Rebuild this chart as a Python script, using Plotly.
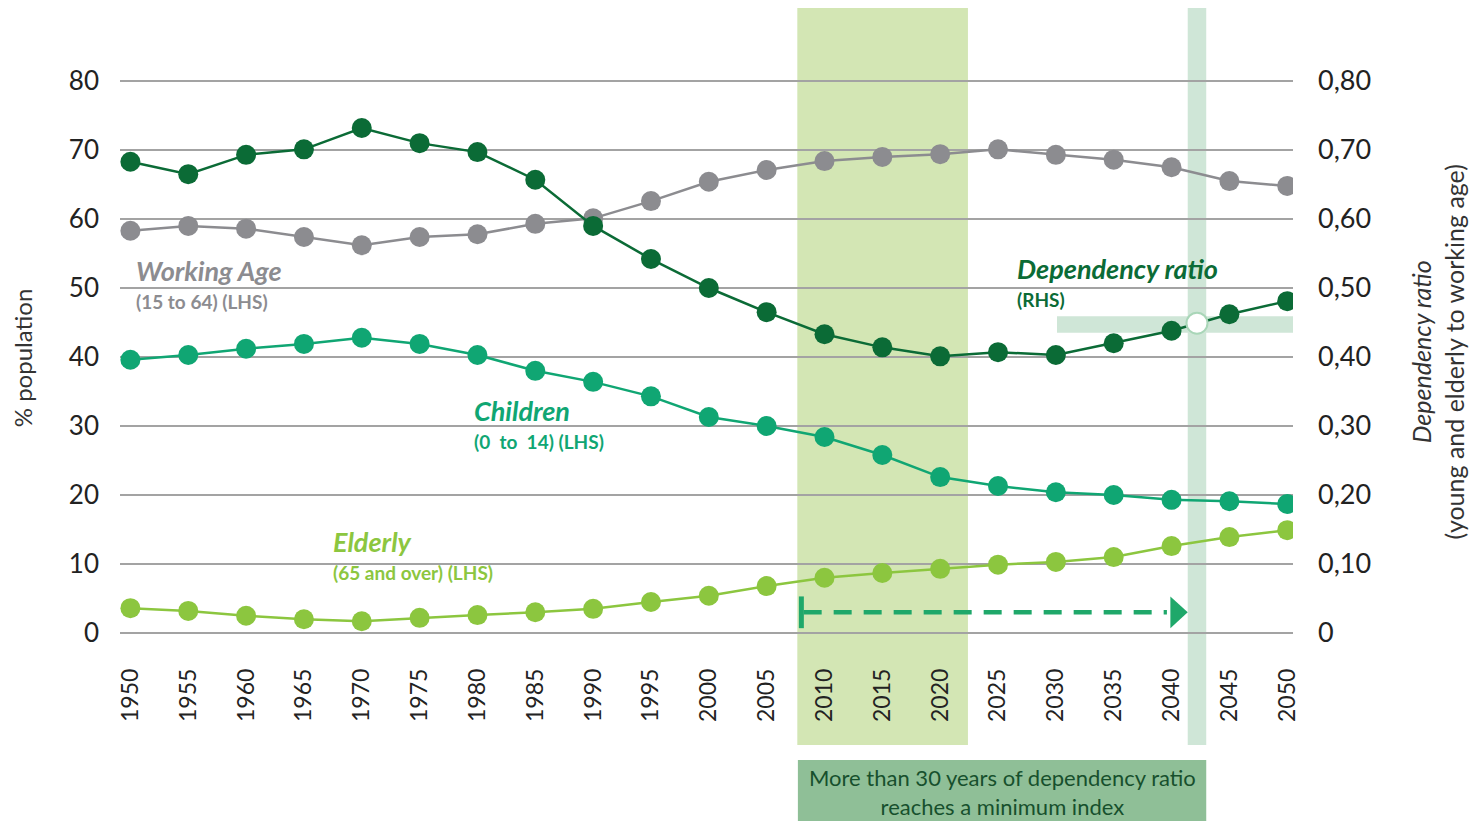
import plotly.graph_objects as go

years = [1950, 1955, 1960, 1965, 1970, 1975, 1980, 1985, 1990, 1995, 2000,
         2005, 2010, 2015, 2020, 2025, 2030, 2035, 2040, 2045, 2050]

dependency_ratio = [0.683, 0.665, 0.693, 0.701, 0.732, 0.710, 0.697, 0.657, 0.590, 0.542, 0.500,
                    0.465, 0.433, 0.414, 0.401, 0.407, 0.403, 0.420, 0.438, 0.462, 0.481]
working_age = [58.3, 59.0, 58.6, 57.4, 56.2, 57.4, 57.8, 59.3, 60.1, 62.6, 65.4,
               67.1, 68.4, 69.0, 69.4, 70.1, 69.3, 68.6, 67.5, 65.5, 64.8]
children = [39.6, 40.3, 41.2, 41.9, 42.8, 41.9, 40.3, 38.0, 36.4, 34.3, 31.3,
            30.0, 28.4, 25.8, 22.6, 21.3, 20.4, 20.0, 19.3, 19.1, 18.7]
elderly = [3.6, 3.2, 2.5, 2.0, 1.7, 2.2, 2.6, 3.0, 3.5, 4.5, 5.4,
           6.8, 8.0, 8.7, 9.3, 9.9, 10.3, 11.0, 12.6, 13.9, 14.9]

left_ticks = [0, 10, 20, 30, 40, 50, 60, 70, 80]
left_ticktext = ["0", "10", "20", "30", "40", "50", "60", "70", "80"]
right_ticks = [0, 0.1, 0.2, 0.3, 0.4, 0.5, 0.6, 0.7, 0.8]
right_ticktext = ["0", "0,10", "0,20", "0,30", "0,40", "0,50", "0,60", "0,70", "0,80"]

highlight_year = [2042.2]
highlight_ratio = [0.449]

C_DEP = "#0b6b36"
C_WORK = "#8c8c90"
C_CHILD = "#10a673"
C_ELD = "#8cc63f"
C_BAND = "#d3e6b4"
C_MINT = "#cfe6d7"
C_ARROW = "#1fa86a"
FONT = "Lato"

fig = go.Figure()

def add_series(y, color, yaxis="y"):
    fig.add_trace(go.Scatter(
        x=years, y=y, mode="lines+markers", yaxis=yaxis,
        line=dict(color=color, width=2.5),
        marker=dict(color=color, size=20),
        showlegend=False, hoverinfo="x+y"))

add_series(working_age, C_WORK)
add_series(children, C_CHILD)
add_series(elderly, C_ELD)
add_series(dependency_ratio, C_DEP, "y2")

fig.add_trace(go.Scatter(
    x=highlight_year, y=highlight_ratio, mode="markers", yaxis="y2",
    marker=dict(color="white", size=21, line=dict(color="#a9d6b8", width=2)),
    showlegend=False))

shapes = []
# shaded period band
shapes.append(dict(type="rect", xref="x", yref="paper", x0=2007.65, x1=2022.4,
                   y0=-0.174, y1=1.108, fillcolor=C_BAND, line=dict(width=0), layer="below"))
# narrow vertical band
shapes.append(dict(type="rect", xref="x", yref="paper", x0=2041.4, x1=2043.0,
                   y0=-0.174, y1=1.108, fillcolor=C_MINT, line=dict(width=0), layer="below"))
# horizontal band
shapes.append(dict(type="rect", xref="x", yref="y", x0=2030.1, x1=2050.5,
                   y0=43.5, y1=45.9, fillcolor=C_MINT, line=dict(width=0), layer="below"))
# bottom box
shapes.append(dict(type="rect", xref="x", yref="paper", x0=2007.7, x1=2043.0,
                   y0=-0.31, y1=-0.2, fillcolor="#8fbf97", line=dict(width=0)))
# dashed arrow
shapes.append(dict(type="line", xref="x", yref="y", x0=2008.2, x1=2039.6, y0=3.0, y1=3.0,
                   line=dict(color=C_ARROW, width=4.5, dash="18px,12px")))
shapes.append(dict(type="line", xref="x", yref="y", x0=2008.0, x1=2008.0, y0=0.7, y1=5.3,
                   line=dict(color=C_ARROW, width=5)))
shapes.append(dict(type="path", xref="x", yref="y",
                   path="M 2039.9 5.3 L 2041.4 3.0 L 2039.9 0.7 Z",
                   fillcolor=C_ARROW, line=dict(width=0)))

annotations = []
def label(x, y, title, sub, color, size=27):
    annotations.append(dict(x=x, y=y, xref="x", yref="y", text=f"<b><i>{title}</i></b>",
                            showarrow=False, xanchor="left", yanchor="middle",
                            font=dict(family=FONT, size=size, color=color)))
    annotations.append(dict(x=x, y=y - 4.4, xref="x", yref="y", text=f"<b>{sub}</b>",
                            showarrow=False, xanchor="left", yanchor="middle",
                            font=dict(family=FONT, size=19, color=color)))

label(1950.3, 52.5, "Working Age", "(15 to 64) (LHS)", C_WORK)
label(1979.5, 32.2, "Children", "(0  to  14) (LHS)", C_CHILD)
label(1967.3, 13.2, "Elderly", "(65 and over) (LHS)", C_ELD)
label(2026.5, 52.8, "Dependency ratio", "(RHS)", C_DEP)

annotations.append(dict(x=2025.35, y=-0.255, xref="x", yref="paper",
                        text="More than 30 years of dependency ratio<br>reaches a minimum index",
                        showarrow=False, xanchor="center", yanchor="middle",
                        font=dict(family=FONT, size=22, color="#17502d")))
annotations.append(dict(x=-0.097, y=0.5, xref="paper", yref="paper",
                        text="% population", textangle=-90, showarrow=False,
                        font=dict(family=FONT, size=24, color="#333333")))
annotations.append(dict(x=1.152, y=0.51, xref="paper", yref="paper",
                        text="<i>Dependency ratio</i><br>(young and elderly to working age)",
                        textangle=-90, showarrow=False,
                        font=dict(family=FONT, size=25, color="#333333")))

fig.update_layout(
    width=1477, height=821,
    margin=dict(l=120, r=184, t=70, b=176),
    paper_bgcolor="white", plot_bgcolor="white",
    font=dict(family=FONT, color="#333333"),
    shapes=shapes, annotations=annotations,
    xaxis=dict(range=[1949.1, 2050.5], tickvals=years, ticktext=[str(y) for y in years],
               tickangle=-90, showgrid=False, zeroline=False, showline=False,
               ticks="", ticklabelstandoff=18, tickfont=dict(family=FONT, size=23, color="#222222")),
    yaxis=dict(range=[-1.74, 81.6], tickvals=left_ticks, ticktext=left_ticktext,
               showgrid=True, gridcolor="#a3a3a3", gridwidth=2, zeroline=False,
               showline=False, ticks="", ticklabelstandoff=20,
               tickfont=dict(family=FONT, size=26, color="#222222")),
    yaxis2=dict(range=[-0.0174, 0.816], tickvals=right_ticks, ticktext=right_ticktext,
                overlaying="y", side="right", showgrid=False, zeroline=False,
                showline=False, ticks="", ticklabelstandoff=24,
                tickfont=dict(family=FONT, size=27, color="#222222")),
)

fig.write_html("out.html")
